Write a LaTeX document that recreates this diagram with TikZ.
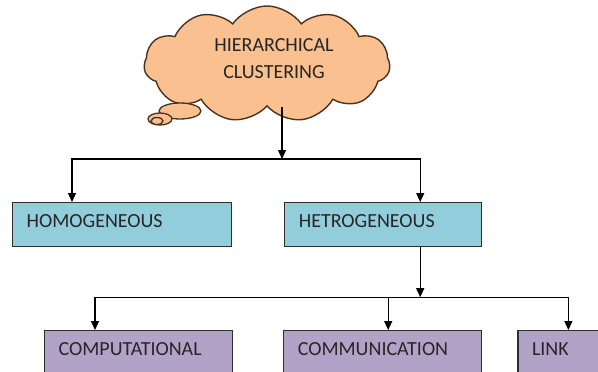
\documentclass[tikz,border=0pt]{standalone}
\usepackage{fontspec}
\setmainfont{Carlito}
\usetikzlibrary{arrows.meta,positioning,shapes.symbols}
\definecolor{CloudOrange}{HTML}{FAC090}
\definecolor{CloudEdge}{HTML}{4A3320}
\definecolor{BoxBlue}{HTML}{92CDDC}
\definecolor{BoxPurple}{HTML}{B3A2C7}
\definecolor{BoxEdge}{HTML}{2E2E2E}
\tikzset{
  thought/.style={cloud, cloud puffs=11, cloud puff arc=110, draw=CloudEdge, line width=1.4pt, fill=CloudOrange},
  bubble/.style={draw=CloudEdge, line width=1.3pt, fill=CloudOrange},
  thoughttext/.style={align=center, font=\fontsize{20}{27}\selectfont, text=black!85},
  bluebox/.style={draw=BoxEdge, line width=1.2pt, fill=BoxBlue, align=left, font=\fontsize{20}{24}\selectfont, text=black!85, minimum height=44pt, inner xsep=14pt, text depth=7pt, anchor=north west},
  purplebox/.style={bluebox, fill=BoxPurple},
  arr/.style={-{Triangle[length=9pt,width=8pt]}, line width=1.2pt, draw=black}
}
\begin{document}
\begin{tikzpicture}[x=1pt, y=1pt]
\useasboundingbox (0,0) rectangle (598,-372);
\node[thought, minimum width=246pt, minimum height=116pt] (cloud) at (267,-64) {};
\draw[bubble] (180,-111) ellipse (21 and 8);
\draw[bubble] (160,-119) ellipse (12 and 6);
\draw[bubble] (157,-121) ellipse (6 and 3.5);
\node[thoughttext] (cloudtext) at (274,-58.5) {HIERARCHICAL\\CLUSTERING};
\node[bluebox, text width=191pt] (homo) at (12,-202) {HOMOGENEOUS};
\node[bluebox, text width=169pt, right=52pt of homo] (hetro) {HETROGENEOUS};
\node[purplebox, text width=160pt] (comput) at (44,-330) {COMPUTATIONAL};
\node[purplebox, text width=170pt, right=50pt of comput] (comm) {COMMUNICATION};
\node[purplebox, text width=72pt, right=35pt of comm] (link) {LINK};
\coordinate (split1) at (282,-159);
\coordinate (split2) at ([xshift=136pt,yshift=-50pt]hetro.south west);
\draw[arr] (cloud.south -| split1) -- (split1);
\draw[arr] (split1) -| ([xshift=60pt]homo.north west);
\draw[arr] (split1) -| (split2 |- hetro.north);
\draw[arr] (split2 |- hetro.south) -- (split2);
\draw[arr] (split2) -| ([xshift=51pt]comput.north west);
\draw[arr] (split2) -| ([xshift=105pt]comm.north west);
\draw[arr] (split2) -| ([xshift=51pt]link.north west);
\end{tikzpicture}
\end{document}
